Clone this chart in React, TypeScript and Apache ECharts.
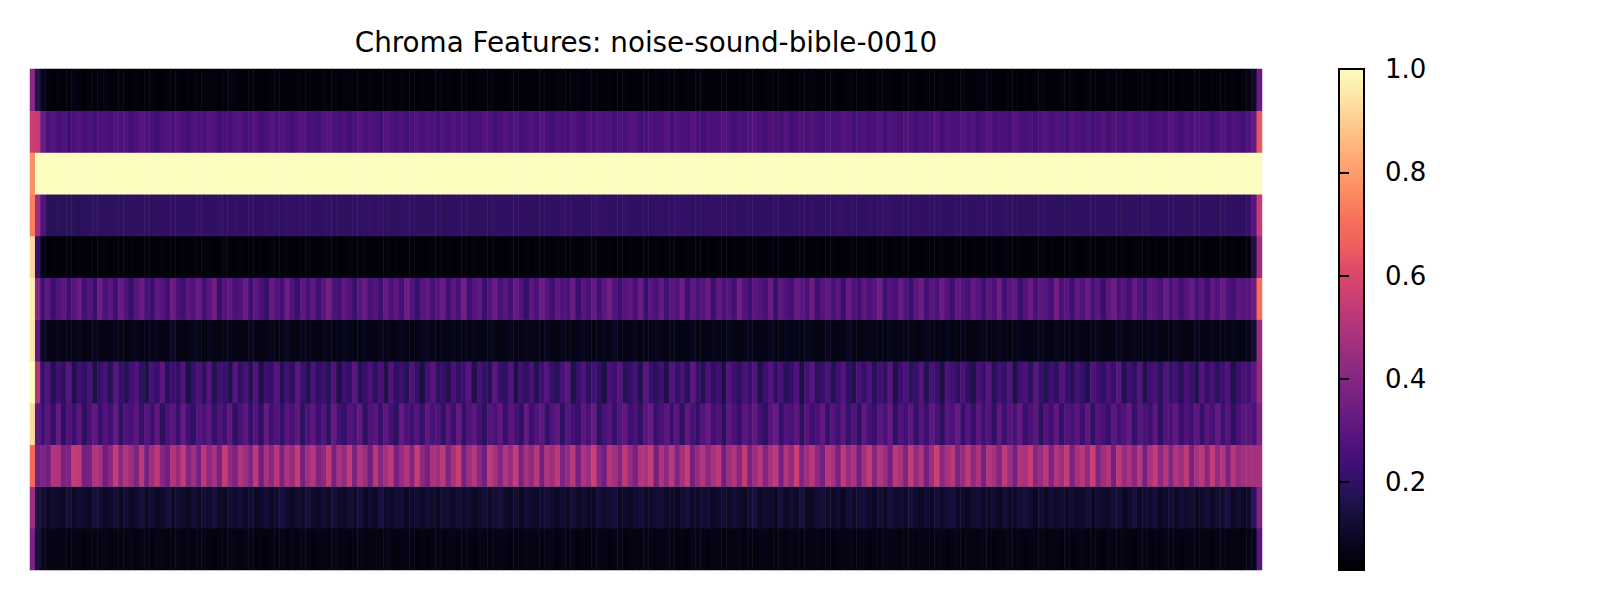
import React, { useEffect, useRef } from "react";
import * as echarts from "echarts";

const TITLE = "Chroma Features: noise-sound-bible-0010";

// Pitch classes, bottom (C) to top (B)
const PITCHES = ["C", "C#", "D", "D#", "E", "F", "F#", "G", "G#", "A", "A#", "B"];

const COLORBAR_MIN = 0.03;
const COLORBAR_MAX = 1.0;
const COLORBAR_TICKS = [0.2, 0.4, 0.6, 0.8, 1.0];

// magma colormap
const MAGMA = [
  "#000004", "#07061c", "#140e36", "#251255", "#3b0f70", "#51127c", "#641a80",
  "#782281", "#8c2981", "#a1307e", "#b73779", "#cd4071", "#de4968", "#f1605d",
  "#f7705c", "#fc8961", "#fe9f6d", "#feb77e", "#fecf92", "#fde7a9", "#fcfdbf",
];

const B = [
  0.42,0.17,0.08,0.05,0.04,0.05,0.04,0.04,0.06,0.05,0.04,0.05,0.04,0.05,0.06,0.04,0.04,0.05,0.04,0.04,
  0.05,0.04,0.04,0.05,0.04,0.04,0.05,0.04,0.05,0.04,0.05,0.04,0.04,0.04,0.05,0.05,0.04,0.04,0.06,0.05,
  0.04,0.04,0.05,0.04,0.04,0.04,0.05,0.05,0.04,0.04,0.04,0.05,0.04,0.04,0.04,0.04,0.05,0.04,0.04,0.04,
  0.05,0.05,0.04,0.04,0.04,0.05,0.04,0.04,0.04,0.05,0.04,0.05,0.04,0.04,0.04,0.05,0.04,0.04,0.05,0.04,
  0.05,0.04,0.04,0.05,0.04,0.04,0.05,0.04,0.05,0.04,0.04,0.04,0.05,0.05,0.04,0.04,0.04,0.04,0.05,0.04,
  0.04,0.05,0.05,0.04,0.04,0.05,0.04,0.05,0.04,0.04,0.04,0.05,0.04,0.04,0.05,0.04,0.04,0.04,0.05,0.04,
  0.05,0.04,0.05,0.04,0.04,0.04,0.05,0.04,0.05,0.05,0.04,0.04,0.04,0.05,0.04,0.04,0.05,0.04,0.04,0.04,
  0.04,0.05,0.05,0.04,0.04,0.05,0.04,0.04,0.04,0.05,0.05,0.04,0.04,0.04,0.05,0.04,0.04,0.05,0.04,0.04,
  0.05,0.04,0.04,0.05,0.04,0.05,0.04,0.04,0.04,0.05,0.04,0.04,0.05,0.04,0.04,0.05,0.04,0.04,0.04,0.05,
  0.04,0.04,0.05,0.04,0.05,0.04,0.04,0.04,0.05,0.04,0.04,0.05,0.04,0.04,0.05,0.04,0.04,0.04,0.05,0.04,
  0.05,0.04,0.04,0.05,0.04,0.04,0.04,0.05,0.04,0.05,0.04,0.04,0.04,0.05,0.04,0.04,0.04,0.05,0.04,0.04,
  0.04,0.05,0.04,0.04,0.05,0.04,0.04,0.05,0.04,0.04,0.04,0.05,0.04,0.05,0.05,0.10,0.33,
];

const A_SHARP = [
  0.56,0.55,0.33,0.26,0.28,0.25,0.27,0.24,0.26,0.28,0.25,0.27,0.24,0.26,0.27,0.25,0.28,0.26,0.27,0.24,
  0.26,0.28,0.27,0.25,0.24,0.26,0.27,0.25,0.28,0.26,0.24,0.27,0.26,0.25,0.28,0.27,0.24,0.26,0.25,0.27,
  0.28,0.25,0.26,0.27,0.24,0.26,0.28,0.25,0.27,0.26,0.24,0.27,0.28,0.25,0.26,0.24,0.27,0.28,0.26,0.25,
  0.27,0.24,0.26,0.28,0.25,0.27,0.26,0.24,0.28,0.26,0.25,0.27,0.24,0.26,0.28,0.25,0.27,0.26,0.24,0.27,
  0.25,0.28,0.26,0.27,0.24,0.26,0.25,0.28,0.27,0.24,0.26,0.28,0.25,0.27,0.24,0.26,0.27,0.25,0.28,0.26,
  0.24,0.27,0.26,0.25,0.28,0.26,0.24,0.27,0.25,0.28,0.26,0.27,0.24,0.26,0.25,0.28,0.27,0.24,0.26,0.27,
  0.25,0.26,0.28,0.24,0.27,0.26,0.25,0.28,0.26,0.24,0.27,0.25,0.26,0.28,0.27,0.24,0.26,0.25,0.27,0.28,
  0.26,0.24,0.27,0.26,0.25,0.28,0.24,0.26,0.27,0.25,0.28,0.26,0.24,0.27,0.26,0.25,0.28,0.27,0.24,0.26,
  0.27,0.25,0.26,0.28,0.24,0.27,0.26,0.25,0.28,0.26,0.24,0.27,0.25,0.26,0.28,0.24,0.27,0.26,0.25,0.28,
  0.26,0.27,0.24,0.26,0.28,0.25,0.27,0.26,0.24,0.28,0.26,0.25,0.27,0.24,0.26,0.28,0.25,0.27,0.26,0.24,
  0.28,0.26,0.25,0.27,0.24,0.26,0.28,0.25,0.27,0.26,0.24,0.28,0.26,0.25,0.27,0.24,0.26,0.27,0.25,0.28,
  0.26,0.24,0.27,0.25,0.28,0.26,0.27,0.24,0.26,0.28,0.25,0.27,0.26,0.24,0.27,0.32,0.64,
];

const A = [
  0.77,1,1,1,1,1,1,1,1,1,1,1,1,1,1,1,1,1,1,1,
  1,1,1,1,1,1,1,1,1,1,1,1,1,1,1,1,1,1,1,1,
  1,1,1,1,1,1,1,1,1,1,1,1,1,1,1,1,1,1,1,1,
  1,1,1,1,1,1,1,1,1,1,1,1,1,1,1,1,1,1,1,1,
  1,1,1,1,1,1,1,1,1,1,1,1,1,1,1,1,1,1,1,1,
  1,1,1,1,1,1,1,1,1,1,1,1,1,1,1,1,1,1,1,1,
  1,1,1,1,1,1,1,1,1,1,1,1,1,1,1,1,1,1,1,1,
  1,1,1,1,1,1,1,1,1,1,1,1,1,1,1,1,1,1,1,1,
  1,1,1,1,1,1,1,1,1,1,1,1,1,1,1,1,1,1,1,1,
  1,1,1,1,1,1,1,1,1,1,1,1,1,1,1,1,1,1,1,1,
  1,1,1,1,1,1,1,1,1,1,1,1,1,1,1,1,1,1,1,1,
  1,1,1,1,1,1,1,1,1,1,1,1,1,1,1,1,1,
];

const G_SHARP = [
  0.74,0.46,0.27,0.19,0.18,0.19,0.18,0.19,0.19,0.18,0.19,0.19,0.20,0.19,0.19,0.20,0.19,0.19,0.20,0.20,
  0.19,0.20,0.20,0.19,0.20,0.20,0.20,0.21,0.20,0.20,0.20,0.20,0.21,0.20,0.20,0.20,0.21,0.20,0.20,0.21,
  0.20,0.20,0.21,0.20,0.20,0.21,0.20,0.20,0.20,0.21,0.21,0.20,0.20,0.21,0.20,0.20,0.20,0.20,0.19,0.20,
  0.20,0.19,0.20,0.20,0.20,0.21,0.20,0.20,0.20,0.20,0.19,0.20,0.20,0.20,0.20,0.19,0.20,0.20,0.20,0.19,
  0.19,0.20,0.20,0.20,0.20,0.19,0.20,0.20,0.19,0.20,0.20,0.20,0.20,0.21,0.20,0.20,0.20,0.19,0.20,0.20,
  0.20,0.20,0.21,0.20,0.20,0.20,0.20,0.20,0.21,0.21,0.20,0.20,0.20,0.20,0.21,0.20,0.20,0.20,0.20,0.20,
  0.20,0.21,0.20,0.20,0.21,0.21,0.21,0.20,0.20,0.20,0.20,0.21,0.21,0.20,0.20,0.21,0.20,0.20,0.20,0.20,
  0.20,0.20,0.20,0.21,0.20,0.20,0.20,0.20,0.20,0.20,0.21,0.20,0.20,0.20,0.20,0.21,0.21,0.20,0.20,0.20,
  0.20,0.21,0.20,0.20,0.21,0.21,0.20,0.20,0.20,0.20,0.21,0.20,0.20,0.20,0.20,0.20,0.20,0.20,0.21,0.20,
  0.20,0.20,0.20,0.20,0.21,0.20,0.20,0.20,0.20,0.20,0.19,0.20,0.19,0.20,0.20,0.20,0.20,0.19,0.19,0.20,
  0.19,0.20,0.20,0.19,0.20,0.20,0.20,0.20,0.20,0.19,0.19,0.20,0.20,0.20,0.20,0.19,0.20,0.20,0.20,0.20,
  0.20,0.20,0.19,0.20,0.20,0.20,0.20,0.20,0.19,0.20,0.20,0.20,0.20,0.20,0.22,0.29,0.54,
];

const G = [
  0.92,0.22,0.07,0.04,0.05,0.04,0.04,0.05,0.04,0.05,0.04,0.04,0.03,0.04,0.05,0.04,0.05,0.04,0.04,0.05,
  0.04,0.04,0.05,0.04,0.04,0.05,0.04,0.04,0.04,0.05,0.04,0.05,0.04,0.04,0.05,0.04,0.04,0.06,0.04,0.04,
  0.05,0.04,0.04,0.04,0.05,0.04,0.05,0.04,0.04,0.05,0.04,0.04,0.04,0.05,0.04,0.04,0.05,0.05,0.04,0.04,
  0.04,0.05,0.04,0.04,0.05,0.04,0.04,0.04,0.05,0.04,0.05,0.04,0.04,0.05,0.04,0.04,0.04,0.05,0.04,0.04,
  0.05,0.04,0.04,0.05,0.04,0.05,0.04,0.04,0.04,0.05,0.04,0.04,0.05,0.04,0.04,0.05,0.04,0.05,0.04,0.04,
  0.04,0.05,0.04,0.04,0.05,0.04,0.04,0.05,0.06,0.04,0.04,0.05,0.04,0.04,0.04,0.05,0.04,0.04,0.05,0.04,
  0.05,0.04,0.04,0.05,0.04,0.04,0.05,0.04,0.04,0.04,0.05,0.04,0.05,0.04,0.04,0.05,0.04,0.04,0.04,0.05,
  0.04,0.04,0.05,0.04,0.05,0.04,0.04,0.04,0.05,0.04,0.04,0.05,0.04,0.04,0.05,0.04,0.04,0.04,0.05,0.04,
  0.05,0.04,0.04,0.05,0.04,0.04,0.05,0.04,0.05,0.04,0.04,0.04,0.05,0.04,0.04,0.05,0.04,0.04,0.05,0.04,
  0.04,0.05,0.04,0.04,0.04,0.05,0.04,0.05,0.04,0.04,0.05,0.04,0.04,0.04,0.05,0.04,0.05,0.04,0.04,0.04,
  0.05,0.04,0.04,0.05,0.04,0.04,0.04,0.05,0.04,0.04,0.05,0.04,0.05,0.04,0.04,0.04,0.05,0.04,0.04,0.05,
  0.04,0.04,0.05,0.04,0.04,0.05,0.04,0.04,0.04,0.05,0.04,0.05,0.04,0.04,0.05,0.15,0.45,
];

const F_SHARP = [
  0.97,0.40,0.24,0.30,0.22,0.27,0.31,0.23,0.29,0.33,0.24,0.28,0.22,0.34,0.26,0.30,0.23,0.32,0.27,0.21,
  0.29,0.33,0.25,0.22,0.31,0.28,0.24,0.34,0.26,0.23,0.30,0.27,0.32,0.24,0.29,0.35,0.22,0.28,0.31,0.25,
  0.27,0.33,0.23,0.30,0.26,0.21,0.32,0.28,0.24,0.34,0.27,0.22,0.30,0.25,0.31,0.23,0.29,0.35,0.26,0.24,
  0.31,0.27,0.22,0.29,0.33,0.25,0.28,0.23,0.32,0.26,0.30,0.24,0.34,0.27,0.22,0.29,0.31,0.25,0.28,0.33,
  0.24,0.30,0.26,0.35,0.23,0.28,0.31,0.22,0.27,0.33,0.25,0.29,0.24,0.32,0.27,0.21,0.30,0.26,0.34,0.28,
  0.23,0.31,0.27,0.25,0.33,0.22,0.29,0.26,0.32,0.24,0.30,0.35,0.27,0.23,0.28,0.31,0.25,0.33,0.22,0.29,
  0.26,0.32,0.24,0.29,0.27,0.34,0.23,0.30,0.25,0.28,0.33,0.22,0.31,0.26,0.29,0.24,0.35,0.27,0.23,0.30,
  0.28,0.25,0.33,0.22,0.30,0.27,0.24,0.32,0.29,0.26,0.34,0.23,0.28,0.31,0.25,0.30,0.22,0.33,0.27,0.24,
  0.31,0.26,0.29,0.35,0.23,0.28,0.25,0.32,0.27,0.22,0.30,0.34,0.24,0.29,0.26,0.33,0.28,0.23,0.31,0.27,
  0.25,0.32,0.28,0.23,0.30,0.26,0.34,0.24,0.29,0.31,0.22,0.27,0.33,0.25,0.30,0.28,0.24,0.35,0.26,0.29,
  0.23,0.31,0.27,0.33,0.25,0.29,0.22,0.30,0.34,0.26,0.28,0.24,0.32,0.27,0.23,0.31,0.29,0.25,0.33,0.26,
  0.30,0.24,0.28,0.32,0.25,0.29,0.23,0.31,0.27,0.33,0.26,0.24,0.30,0.28,0.29,0.34,0.70,
];

const F = [
  0.95,0.30,0.09,0.07,0.06,0.08,0.07,0.06,0.07,0.08,0.06,0.07,0.08,0.07,0.06,0.07,0.08,0.07,0.06,0.07,
  0.08,0.06,0.07,0.07,0.08,0.06,0.07,0.09,0.07,0.06,0.07,0.08,0.07,0.06,0.08,0.07,0.06,0.07,0.08,0.07,
  0.06,0.07,0.08,0.07,0.06,0.07,0.08,0.06,0.07,0.09,0.07,0.06,0.08,0.07,0.07,0.06,0.08,0.07,0.06,0.07,
  0.08,0.07,0.06,0.07,0.08,0.07,0.06,0.08,0.07,0.06,0.07,0.08,0.07,0.06,0.07,0.08,0.09,0.07,0.06,0.07,
  0.07,0.08,0.06,0.07,0.07,0.08,0.06,0.07,0.08,0.07,0.06,0.07,0.08,0.07,0.06,0.08,0.07,0.07,0.06,0.08,
  0.07,0.06,0.08,0.07,0.06,0.07,0.08,0.07,0.06,0.07,0.08,0.07,0.09,0.07,0.06,0.07,0.08,0.06,0.07,0.07,
  0.08,0.07,0.06,0.08,0.07,0.06,0.07,0.08,0.07,0.06,0.07,0.08,0.07,0.06,0.08,0.07,0.06,0.07,0.08,0.07,
  0.06,0.07,0.08,0.07,0.06,0.08,0.07,0.07,0.06,0.08,0.07,0.06,0.07,0.08,0.07,0.06,0.07,0.09,0.07,0.06,
  0.07,0.08,0.07,0.06,0.07,0.08,0.07,0.06,0.08,0.07,0.06,0.07,0.08,0.07,0.06,0.07,0.08,0.07,0.06,0.08,
  0.07,0.06,0.07,0.08,0.07,0.06,0.08,0.07,0.06,0.07,0.08,0.07,0.06,0.07,0.08,0.07,0.06,0.08,0.07,0.07,
  0.06,0.08,0.07,0.06,0.07,0.08,0.07,0.06,0.07,0.08,0.07,0.06,0.08,0.07,0.06,0.07,0.08,0.07,0.06,0.07,
  0.08,0.07,0.06,0.07,0.08,0.07,0.06,0.08,0.07,0.06,0.07,0.08,0.07,0.06,0.08,0.12,0.44,
];

const E = [
  1.00,0.50,0.22,0.27,0.17,0.24,0.19,0.28,0.16,0.23,0.20,0.26,0.15,0.22,0.25,0.18,0.29,0.21,0.17,0.24,
  0.27,0.19,0.16,0.25,0.22,0.30,0.18,0.23,0.20,0.27,0.15,0.21,0.26,0.19,0.28,0.17,0.24,0.22,0.16,0.29,
  0.20,0.25,0.18,0.27,0.15,0.23,0.21,0.28,0.17,0.24,0.19,0.30,0.22,0.16,0.26,0.20,0.23,0.18,0.27,0.15,
  0.24,0.21,0.29,0.17,0.22,0.26,0.19,0.25,0.16,0.28,0.20,0.23,0.18,0.27,0.21,0.15,0.24,0.29,0.19,0.22,
  0.17,0.26,0.20,0.23,0.28,0.16,0.25,0.21,0.18,0.30,0.22,0.19,0.27,0.15,0.24,0.20,0.26,0.17,0.23,0.28,
  0.21,0.18,0.25,0.29,0.16,0.22,0.27,0.19,0.24,0.20,0.15,0.26,0.23,0.28,0.18,0.21,0.25,0.17,0.29,0.22,
  0.19,0.24,0.16,0.27,0.21,0.25,0.18,0.30,0.22,0.17,0.26,0.20,0.24,0.15,0.28,0.23,0.19,0.25,0.21,0.27,
  0.16,0.23,0.28,0.20,0.25,0.18,0.22,0.27,0.15,0.24,0.29,0.19,0.21,0.26,0.17,0.23,0.28,0.20,0.16,0.25,
  0.22,0.27,0.18,0.24,0.20,0.29,0.16,0.23,0.26,0.19,0.21,0.28,0.17,0.25,0.22,0.15,0.27,0.24,0.19,0.26,
  0.20,0.16,0.25,0.22,0.28,0.18,0.24,0.21,0.27,0.15,0.23,0.26,0.19,0.29,0.21,0.17,0.24,0.20,0.28,0.22,
  0.18,0.25,0.21,0.16,0.27,0.23,0.19,0.26,0.22,0.29,0.17,0.24,0.20,0.28,0.16,0.23,0.25,0.19,0.27,0.21,
  0.24,0.18,0.26,0.22,0.17,0.28,0.21,0.25,0.19,0.23,0.27,0.16,0.22,0.26,0.24,0.30,0.43,
];

const D_SHARP = [
  0.93,0.30,0.24,0.29,0.21,0.32,0.20,0.27,0.23,0.30,0.19,0.26,0.31,0.22,0.28,0.24,0.32,0.20,0.27,0.25,
  0.30,0.21,0.28,0.23,0.31,0.19,0.26,0.29,0.22,0.32,0.24,0.20,0.28,0.25,0.30,0.21,0.27,0.23,0.31,0.19,
  0.26,0.30,0.22,0.28,0.20,0.32,0.24,0.27,0.21,0.29,0.25,0.31,0.19,0.26,0.30,0.23,0.28,0.20,0.32,0.24,
  0.21,0.28,0.25,0.31,0.20,0.27,0.29,0.22,0.30,0.24,0.19,0.32,0.26,0.23,0.28,0.21,0.31,0.25,0.27,0.20,
  0.29,0.23,0.32,0.21,0.27,0.30,0.24,0.19,0.28,0.26,0.31,0.22,0.29,0.25,0.20,0.32,0.23,0.27,0.30,0.21,
  0.27,0.31,0.20,0.28,0.24,0.22,0.30,0.26,0.32,0.19,0.25,0.29,0.21,0.28,0.31,0.23,0.26,0.20,0.29,0.32,
  0.22,0.26,0.30,0.23,0.29,0.20,0.31,0.25,0.21,0.28,0.32,0.24,0.27,0.19,0.30,0.26,0.22,0.29,0.25,0.31,
  0.24,0.20,0.28,0.32,0.22,0.27,0.25,0.30,0.19,0.29,0.23,0.26,0.31,0.21,0.28,0.24,0.30,0.22,0.27,0.20,
  0.31,0.25,0.22,0.29,0.26,0.32,0.20,0.27,0.24,0.30,0.21,0.28,0.23,0.31,0.25,0.19,0.29,0.26,0.32,0.22,
  0.28,0.21,0.30,0.24,0.27,0.20,0.31,0.23,0.29,0.25,0.32,0.22,0.26,0.30,0.19,0.28,0.24,0.31,0.21,0.27,
  0.25,0.29,0.23,0.31,0.20,0.28,0.26,0.22,0.30,0.24,0.27,0.32,0.21,0.29,0.25,0.23,0.30,0.20,0.28,0.26,
  0.31,0.22,0.27,0.24,0.30,0.21,0.29,0.25,0.32,0.23,0.28,0.20,0.26,0.30,0.29,0.26,0.38,
];

const D = [
  0.69,0.36,0.38,0.35,0.50,0.49,0.37,0.38,0.54,0.53,0.36,0.37,0.50,0.48,0.35,0.41,0.55,0.41,0.50,0.45,
  0.38,0.52,0.36,0.46,0.53,0.40,0.35,0.50,0.44,0.54,0.39,0.46,0.36,0.52,0.42,0.48,0.37,0.55,0.43,0.37,
  0.50,0.45,0.39,0.53,0.35,0.48,0.41,0.52,0.37,0.49,0.44,0.55,0.36,0.46,0.51,0.38,0.42,0.53,0.36,0.48,
  0.43,0.54,0.37,0.50,0.45,0.35,0.52,0.40,0.47,0.53,0.36,0.44,0.50,0.39,0.55,0.42,0.36,0.49,0.46,0.52,
  0.38,0.48,0.55,0.36,0.45,0.51,0.41,0.35,0.53,0.47,0.39,0.50,0.44,0.54,0.37,0.48,0.42,0.52,0.36,0.50,
  0.46,0.53,0.38,0.43,0.52,0.36,0.49,0.45,0.56,0.40,0.35,0.51,0.47,0.39,0.53,0.44,0.37,0.50,0.48,0.54,
  0.36,0.49,0.42,0.52,0.38,0.47,0.55,0.36,0.44,0.51,0.41,0.48,0.53,0.35,0.46,0.50,0.40,0.54,0.37,0.45,
  0.52,0.39,0.48,0.53,0.36,0.50,0.43,0.56,0.38,0.46,0.52,0.42,0.36,0.51,0.48,0.37,0.53,0.44,0.49,0.35,
  0.47,0.55,0.40,0.50,0.45,0.36,0.52,0.48,0.38,0.54,0.43,0.50,0.36,0.46,0.56,0.41,0.48,0.52,0.37,0.44,
  0.53,0.42,0.49,0.36,0.51,0.47,0.39,0.53,0.45,0.36,0.50,0.48,0.55,0.40,0.44,0.52,0.38,0.50,0.46,0.54,
  0.37,0.48,0.52,0.43,0.56,0.38,0.46,0.50,0.36,0.53,0.44,0.49,0.41,0.52,0.36,0.48,0.54,0.42,0.51,0.39,
  0.50,0.45,0.53,0.37,0.48,0.52,0.40,0.54,0.43,0.50,0.37,0.52,0.44,0.47,0.47,0.47,0.47,
];

const C_SHARP = [
  0.46,0.15,0.12,0.10,0.12,0.11,0.09,0.13,0.10,0.12,0.11,0.09,0.13,0.12,0.10,0.11,0.13,0.09,0.12,0.10,
  0.11,0.13,0.10,0.12,0.09,0.11,0.14,0.10,0.12,0.11,0.09,0.13,0.10,0.12,0.11,0.14,0.10,0.09,0.12,0.11,
  0.13,0.10,0.12,0.09,0.11,0.13,0.10,0.12,0.14,0.11,0.09,0.12,0.10,0.13,0.11,0.10,0.12,0.09,0.13,0.11,
  0.10,0.12,0.11,0.13,0.09,0.12,0.10,0.14,0.11,0.10,0.12,0.13,0.09,0.11,0.12,0.10,0.13,0.11,0.09,0.12,
  0.12,0.10,0.13,0.11,0.12,0.09,0.11,0.13,0.10,0.12,0.14,0.11,0.10,0.12,0.09,0.13,0.11,0.10,0.12,0.13,
  0.11,0.09,0.12,0.10,0.13,0.11,0.12,0.10,0.09,0.13,0.11,0.12,0.14,0.10,0.11,0.09,0.12,0.13,0.10,0.11,
  0.12,0.13,0.10,0.11,0.09,0.12,0.14,0.11,0.10,0.12,0.13,0.09,0.11,0.12,0.10,0.13,0.11,0.09,0.12,0.14,
  0.10,0.12,0.11,0.09,0.13,0.10,0.12,0.11,0.14,0.10,0.09,0.12,0.13,0.11,0.10,0.12,0.09,0.13,0.11,0.12,
  0.13,0.11,0.09,0.12,0.10,0.14,0.11,0.12,0.10,0.13,0.11,0.09,0.12,0.10,0.13,0.11,0.12,0.14,0.10,0.11,
  0.09,0.12,0.13,0.10,0.11,0.12,0.09,0.13,0.11,0.10,0.12,0.14,0.11,0.09,0.12,0.10,0.13,0.11,0.12,0.10,
  0.12,0.10,0.11,0.13,0.09,0.12,0.11,0.10,0.13,0.12,0.09,0.11,0.14,0.10,0.12,0.11,0.13,0.09,0.11,0.12,
  0.10,0.13,0.11,0.12,0.09,0.11,0.13,0.10,0.12,0.11,0.14,0.10,0.12,0.09,0.11,0.20,0.38,
];

const C = [
  0.37,0.14,0.08,0.06,0.07,0.06,0.07,0.05,0.06,0.07,0.05,0.06,0.05,0.06,0.07,0.05,0.06,0.05,0.06,0.07,
  0.05,0.06,0.06,0.05,0.07,0.06,0.05,0.06,0.07,0.05,0.06,0.05,0.06,0.07,0.06,0.05,0.06,0.05,0.07,0.06,
  0.05,0.06,0.07,0.05,0.06,0.05,0.06,0.06,0.07,0.05,0.06,0.05,0.07,0.06,0.05,0.06,0.06,0.05,0.07,0.06,
  0.06,0.05,0.06,0.07,0.05,0.06,0.06,0.05,0.07,0.06,0.05,0.06,0.06,0.07,0.05,0.06,0.05,0.06,0.07,0.05,
  0.06,0.07,0.05,0.06,0.06,0.05,0.07,0.06,0.05,0.06,0.07,0.06,0.05,0.06,0.05,0.07,0.06,0.06,0.05,0.06,
  0.07,0.05,0.06,0.06,0.07,0.05,0.06,0.05,0.06,0.07,0.06,0.05,0.06,0.07,0.05,0.06,0.06,0.05,0.07,0.06,
  0.05,0.06,0.07,0.06,0.05,0.06,0.05,0.07,0.06,0.06,0.05,0.07,0.06,0.05,0.06,0.06,0.07,0.05,0.06,0.05,
  0.06,0.07,0.05,0.06,0.06,0.05,0.07,0.06,0.05,0.06,0.06,0.07,0.05,0.06,0.05,0.06,0.07,0.06,0.05,0.06,
  0.07,0.05,0.06,0.05,0.06,0.07,0.06,0.05,0.06,0.06,0.05,0.07,0.06,0.05,0.06,0.07,0.05,0.06,0.06,0.05,
  0.06,0.06,0.05,0.07,0.06,0.05,0.06,0.06,0.07,0.05,0.06,0.05,0.06,0.07,0.06,0.05,0.06,0.06,0.05,0.07,
  0.05,0.06,0.07,0.05,0.06,0.06,0.05,0.07,0.06,0.05,0.06,0.06,0.05,0.07,0.06,0.05,0.06,0.05,0.07,0.06,
  0.06,0.05,0.06,0.07,0.05,0.06,0.06,0.05,0.07,0.06,0.05,0.06,0.06,0.05,0.07,0.08,0.29,
];

// rows bottom to top, matching PITCHES
const ROWS = [C, C_SHARP, D, D_SHARP, E, F, F_SHARP, G, G_SHARP, A, A_SHARP, B];

export default function App() {
  const ref = useRef<HTMLDivElement>(null);

  useEffect(() => {
    if (!ref.current) return;
    const chart = echarts.init(ref.current, null, { renderer: "svg" });

    const nFrames = Math.max(...ROWS.map((r) => r.length));
    const frames = Array.from({ length: nFrames }, (_, i) => String(i));
    const data: [number, number, number][] = [];
    ROWS.forEach((row, y) => {
      row.forEach((v, x) => data.push([x, y, v]));
    });

    const gradient = new echarts.graphic.LinearGradient(
      0, 1, 0, 0,
      MAGMA.map((c, i) => ({ offset: i / (MAGMA.length - 1), color: c }))
    );

    const font = "DejaVu Sans";

    chart.setOption({
      animation: false,
      backgroundColor: "#ffffff",
      title: {
        text: TITLE,
        left: 641,
        top: 23,
        textAlign: "center",
        textStyle: { fontFamily: font, fontSize: 27.8, fontWeight: "normal", color: "#000" },
      },
      grid: [
        { left: 30, top: 69, width: 1232, height: 501, show: false },
        {
          left: 1339, top: 69, width: 25, height: 501, show: true,
          backgroundColor: gradient, borderColor: "#000", borderWidth: 2,
        },
      ],
      xAxis: [
        { type: "category", data: frames, gridIndex: 0, show: false },
        { type: "value", gridIndex: 1, show: false, min: 0, max: 1 },
      ],
      yAxis: [
        { type: "category", data: PITCHES, gridIndex: 0, show: false },
        {
          type: "value", gridIndex: 1, min: COLORBAR_MIN, max: COLORBAR_MAX, position: "right",
          axisLine: { show: false },
          splitLine: { show: false },
          axisTick: {
            show: true, length: 10, customValues: COLORBAR_TICKS,
            lineStyle: { color: "#000", width: 2 },
          },
          axisLabel: {
            show: true, customValues: COLORBAR_TICKS,
            formatter: (v: number) => v.toFixed(1),
            fontFamily: font, fontSize: 26, color: "#000", margin: 21,
          },
        },
      ],
      visualMap: {
        show: false, type: "continuous", min: COLORBAR_MIN, max: COLORBAR_MAX,
        seriesIndex: 0, dimension: 2, inRange: { color: MAGMA },
      },
      series: [
        {
          type: "heatmap", xAxisIndex: 0, yAxisIndex: 0, data,
          itemStyle: { borderWidth: 0 },
          emphasis: { disabled: true },
          progressive: 0,
        },
      ],
    });

    return () => chart.dispose();
  }, []);

  return (
    <div
      ref={ref}
      style={{ position: "absolute", left: 0, top: 0, width: 1600, height: 600 }}
    />
  );
}
